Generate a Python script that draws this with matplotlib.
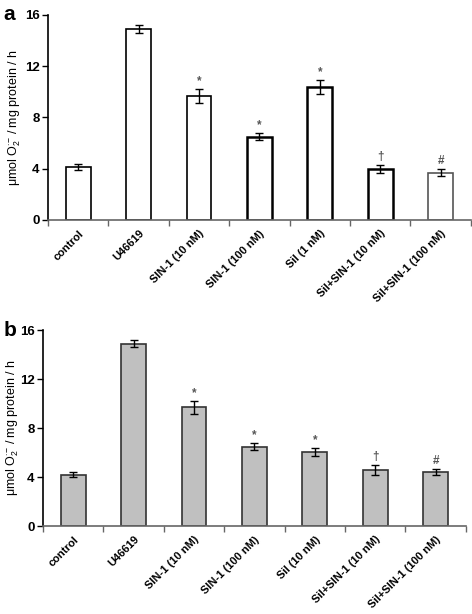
import matplotlib
matplotlib.use("Agg")
import matplotlib.pyplot as plt
import numpy as np

plt.rcParams['font.family'] = ['Liberation Sans', 'DejaVu Sans']
plt.rcParams['mathtext.fontset'] = 'custom'
plt.rcParams['mathtext.rm'] = 'Liberation Sans'
plt.rcParams['mathtext.it'] = 'Liberation Sans'
plt.rcParams['mathtext.bf'] = 'Liberation Sans:bold'

labels_a = ["control", "U46619", "SIN-1 (10 nM)", "SIN-1 (100 nM)", "Sil (1 nM)",
            "Sil+SIN-1 (10 nM)", "Sil+SIN-1 (100 nM)"]
values_a = [4.15, 14.88, 9.7, 6.5, 10.37, 3.98, 3.7]
errors_a = [0.25, 0.3, 0.55, 0.28, 0.57, 0.28, 0.3]
marks_a = ["", "", "*", "*", "*", "\u2020", "#"]

labels_b = ["control", "U46619", "SIN-1 (10 nM)", "SIN-1 (100 nM)", "Sil (10 nM)",
            "Sil+SIN-1 (10 nM)", "Sil+SIN-1 (100 nM)"]
values_b = [4.2, 14.88, 9.69, 6.48, 6.07, 4.57, 4.41]
errors_b = [0.2, 0.3, 0.55, 0.3, 0.32, 0.4, 0.24]
marks_b = ["", "", "*", "*", "*", "\u2020", "#"]

yticks = [0, 4, 8, 12, 16]

fig = plt.figure(figsize=(4.72, 6.14), dpi=100)

def panel(rect, labels, values, errors, marks, face, letter, lws, edges, label_x):
    ax = fig.add_axes(rect)
    x = np.arange(len(labels))
    ax.bar(x, values, width=0.41, color=face, edgecolor=edges, linewidth=lws, zorder=2)
    ax.errorbar(x, values, yerr=errors, fmt='none', ecolor='black', elinewidth=1.0,
                capsize=3, capthick=1.0, zorder=3)
    for xi, v, e, m in zip(x, values, errors, marks):
        if m:
            ax.text(xi, v + e + 0.15, m, ha='center', va='bottom', fontsize=8.5,
                    color='#555555', fontweight='bold')
    ax.set_xlim(-0.5, len(labels) - 0.5)
    ax.set_ylim(0, 16)
    ax.set_yticks(yticks)
    ax.set_yticklabels([str(t) for t in yticks], fontsize=9.5, fontweight='bold')
    ax.set_xticks(np.arange(len(labels) + 1) - 0.5)
    ax.set_xticklabels([])
    ax.set_xticks(x, minor=True)
    ax.set_xticklabels(labels, minor=True, rotation=45, ha='right', rotation_mode='anchor',
                       fontsize=8, fontweight='bold')
    ax.tick_params(axis='x', which='minor', length=0, pad=6)
    ax.tick_params(axis='x', which='major', length=4, width=1, color='#666666', direction='out')
    ax.tick_params(axis='y', length=4, width=1, direction='out', pad=2)
    for s in ['top', 'right']:
        ax.spines[s].set_visible(False)
    ax.spines['bottom'].set_color('#666666')
    ax.spines['bottom'].set_linewidth(1.2)
    ax.spines['left'].set_linewidth(1.2)
    ax.set_ylabel(r'$\mu$mol O$_2^{\cdot{-}}$ / mg protein / h', fontsize=9,
                  fontweight='normal', va='center')
    ax.yaxis.set_label_coords(label_x, 0.5)
    fig.text(0.008, rect[1] + rect[3], letter, fontsize=15, fontweight='bold',
             ha='left', va='center')
    return ax

panel([0.1017, 0.6417, 0.896, 0.3339], labels_a, values_a, errors_a, marks_a,
      'white', 'a', [1.2, 1.2, 1.2, 1.8, 1.8, 1.8, 1.2],
      ['black'] * 6 + ['#555555'], -0.078)
panel([0.0911, 0.1433, 0.896, 0.3192], labels_b, values_b, errors_b, marks_b,
      '#c0c0c0', 'b', 1.2, ['#333333'] * 7, -0.072)

fig.savefig('out.png', dpi=100)
